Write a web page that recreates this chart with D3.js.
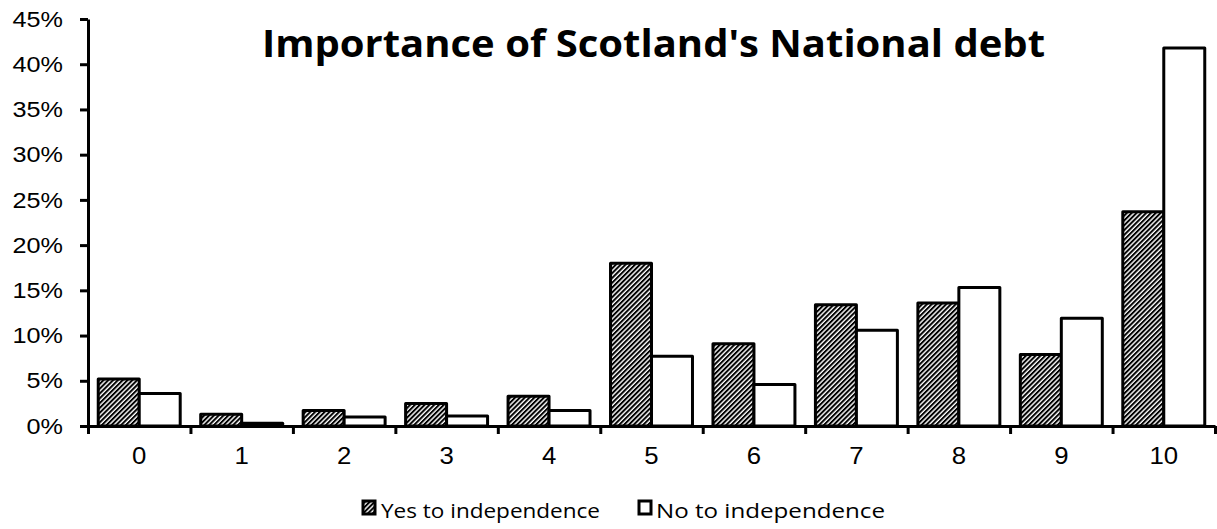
<!DOCTYPE html>
<html>
<head>
<meta charset="utf-8">
<script src="https://cdn.jsdelivr.net/npm/d3@7"></script>
<style>
  html, body { margin: 0; padding: 0; background: #fff; }
  svg { display: block; }
</style>
</head>
<body>
<svg id="chart" width="1217" height="529"></svg>
<script>
// Survey scores 0–10: share of respondents by referendum vote
const categories = ["0", "1", "2", "3", "4", "5", "6", "7", "8", "9", "10"];
const yesValues = [5.2, 1.3, 1.7, 2.5, 3.3, 18.0, 9.1, 13.4, 13.6, 7.9, 23.7];
const noValues  = [3.6, 0.3, 1.0, 1.1, 1.7, 7.7, 4.6, 10.6, 15.3, 11.9, 41.8];
const seriesNames = ["Yes to independence", "No to independence"];
const yTicks = [0, 5, 10, 15, 20, 25, 30, 35, 40, 45];
const titleText = "Importance of Scotland's National debt";

const svg = d3.select("#chart");
const plotLeft = 88, plotRight = 1215, plotTop = 19, plotBottom = 426;

// Diagonal hatch used by the "Yes" series
const defs = svg.append("defs");
const hatch = defs.append("pattern")
  .attr("id", "hatch")
  .attr("patternUnits", "userSpaceOnUse")
  .attr("width", 3.4).attr("height", 10)
  .attr("patternTransform", "rotate(45)");
hatch.append("rect").attr("width", 3.4).attr("height", 10).attr("fill", "#fff");
hatch.append("rect").attr("width", 2.0).attr("height", 10).attr("fill", "#000");

const x0 = d3.scaleBand().domain(categories).range([plotLeft, plotRight]).paddingInner(0).paddingOuter(0);
const bw = x0.bandwidth();
const x1 = d3.scaleBand().domain(seriesNames).range([bw * 0.1, bw * 0.9]).padding(0);
const y = d3.scaleLinear().domain([0, 45]).range([plotBottom, plotTop]);

const rows = categories.map((c, i) => ({ cat: c, vals: [yesValues[i], noValues[i]] }));

// Bars
const groups = svg.append("g").selectAll("g").data(rows).join("g")
  .attr("transform", d => `translate(${x0(d.cat)},0)`);
groups.selectAll("rect").data(d => d.vals.map((v, j) => ({ v, s: seriesNames[j] })))
  .join("rect")
  .attr("x", d => x1(d.s))
  .attr("width", x1.bandwidth())
  .attr("y", d => y(d.v))
  .attr("height", d => y(0) - y(d.v))
  .attr("fill", d => d.s === seriesNames[0] ? "url(#hatch)" : "#fff")
  .attr("stroke", "#000")
  .attr("stroke-width", 3)
  .attr("stroke-linejoin", "round");

const tickFont = "'Liberation Sans', Arial, Helvetica, sans-serif";

// Y axis
const yAxis = svg.append("g").attr("transform", `translate(${plotLeft},0)`)
  .call(d3.axisLeft(y).tickValues(yTicks).tickFormat(d => d + "%").tickSize(8).tickSizeOuter(0).tickPadding(17));
yAxis.select(".domain").attr("stroke-width", 3);
yAxis.selectAll(".tick line").attr("stroke-width", 3);
yAxis.selectAll("text")
  .attr("font-family", tickFont)
  .attr("font-size", 22.5).attr("fill", "#000");

// X axis: boundary ticks
const xEdge = d3.scaleLinear().domain([0, categories.length]).range([plotLeft, plotRight]);
const xAxis = svg.append("g").attr("transform", `translate(0,${plotBottom})`)
  .call(d3.axisBottom(xEdge).tickValues(d3.range(categories.length + 1)).tickFormat("").tickSize(8).tickSizeOuter(0));
xAxis.select(".domain").attr("stroke-width", 3);
xAxis.selectAll(".tick line").attr("stroke-width", 3);

// X axis: category labels at band centres
const xLab = svg.append("g").attr("transform", `translate(0,${plotBottom})`)
  .call(d3.axisBottom(x0).tickSize(0).tickPadding(22));
xLab.select(".domain").remove();
xLab.selectAll("text")
  .attr("font-family", tickFont)
  .attr("font-size", 23).attr("fill", "#000");

// Title
svg.append("text")
  .attr("class", "title")
  .attr("x", 262).attr("y", 57)
  .attr("font-family", "'Open Sans', Lato, sans-serif")
  .attr("font-weight", "bold")
  .attr("font-size", 38)
  .attr("fill", "#000")
  .text(titleText);

// Legend
const legendItems = [
  { name: seriesNames[0], fill: "url(#hatch)", sx: 363, tx: 381, w: 219 },
  { name: seriesNames[1], fill: "#fff", sx: 639, tx: 656, w: 229 }
];
const lg = svg.append("g").attr("class", "legend");
legendItems.forEach(it => {
  lg.append("rect").attr("x", it.sx).attr("y", 501).attr("width", 12).attr("height", 13)
    .attr("fill", it.fill).attr("stroke", "#000").attr("stroke-width", 3);
  lg.append("text").attr("x", it.tx).attr("y", 518)
    .attr("font-family", "'Open Sans', Lato, sans-serif")
    .attr("font-size", 20).attr("fill", "#000")
    .attr("textLength", it.w).attr("lengthAdjust", "spacingAndGlyphs")
    .text(it.name);
});

// Widen glyphs horizontally to the chart's proportions
function stretch(sel, k) {
  sel.each(function () {
    const n = this.getComputedTextLength();
    d3.select(this).attr("textLength", n * k).attr("lengthAdjust", "spacingAndGlyphs");
  });
}
stretch(yAxis.selectAll("text"), 1.12);
stretch(xLab.selectAll("text"), 1.12);
svg.select(".title").attr("textLength", 783).attr("lengthAdjust", "spacingAndGlyphs");
</script>
</body>
</html>
